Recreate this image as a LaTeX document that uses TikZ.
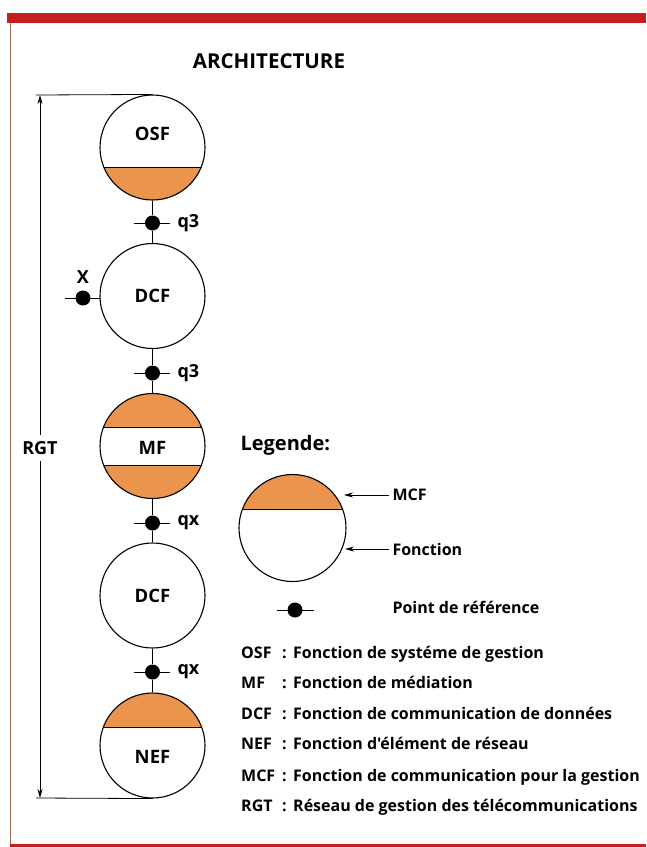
\documentclass[tikz,border=0pt]{standalone}
\usepackage{fontspec}
\setmainfont{Open Sans}[Ligatures=TeXOff]
\usetikzlibrary{arrows.meta,calc}
\definecolor{mcforange}{RGB}{234,148,78}
\definecolor{barred}{RGB}{196,30,32}
\definecolor{framerule}{RGB}{150,110,80}

\begin{document}
\begin{tikzpicture}[x=1pt,y=-1pt,
  font=\bfseries\fontsize{16}{18}\selectfont,
  func/.style={circle,draw,line width=1.1pt,minimum size=105pt,inner sep=0pt},
  flabel/.style={font=\bfseries\fontsize{18.5}{20}\selectfont},
  lowcap/.style={path picture={\fill[mcforange,draw=black,line width=0.9pt]
    ([shift={(-70pt,-#1)}]path picture bounding box.center) rectangle
    ([shift={(70pt,-80pt)}]path picture bounding box.center);}},
  upcap/.style={path picture={\fill[mcforange,draw=black,line width=0.9pt]
    ([shift={(-70pt,#1)}]path picture bounding box.center) rectangle
    ([shift={(70pt,80pt)}]path picture bounding box.center);}},
  bothcaps/.style={path picture={
    \fill[mcforange,draw=black,line width=0.9pt]
      ([shift={(-70pt,#1)}]path picture bounding box.center) rectangle
      ([shift={(70pt,80pt)}]path picture bounding box.center);
    \fill[mcforange,draw=black,line width=0.9pt]
      ([shift={(-70pt,-#1)}]path picture bounding box.center) rectangle
      ([shift={(70pt,-80pt)}]path picture bounding box.center);}},
  refdot/.style={circle,fill=black,minimum size=15pt,inner sep=0pt},
  wire/.style={line width=0.8pt},
  arr/.style={line width=0.8pt,-{Stealth[length=9pt,width=5pt]}},
  qlabel/.style={anchor=west,font=\bfseries\fontsize{18}{20}\selectfont},
]
\useasboundingbox (0,0) rectangle (646,847);

% frame
\fill[barred] (7,13) rectangle (646,22.5);
\fill[barred] (10,843.5) rectangle (646,847);
\draw[framerule,line width=0.9pt] (10,22.5) -- (10,843.5);

% title
\node[font=\bfseries\fontsize{20.5}{24}\selectfont] (title) at (269,61) {ARCHITECTURE};

% function blocks
\node[func,lowcap=19.5pt] (osf)  at (152.5,147.5) {};
\node[func]               (dcf1) at (152.5,296)   {};
\node[func,bothcaps=19pt] (mf)   at (152.5,446)   {};
\node[func]               (dcf2) at (152.5,595.5) {};
\node[func,upcap=18.5pt]  (nef)  at (152.5,745.5) {};
\node[flabel] (osft)  at (152.5,134)   {OSF};
\node[flabel] (dcf1t) at (152.5,296)   {DCF};
\node[flabel] (mft)   at (152.5,448)   {MF};
\node[flabel] (dcf2t) at (152.5,595.5) {DCF};
\node[flabel] (neft)  at (152.5,757)   {NEF};

% reference points
\node[refdot] (p1) at (152.5,223) {};
\node[refdot] (p2) at (152.5,373) {};
\node[refdot] (p3) at (152.5,523) {};
\node[refdot] (p4) at (152.5,672) {};
\node[refdot] (px) at (83,298) {};

\draw[wire] (osf) -- (p1) -- (dcf1);
\draw[wire] (dcf1) -- (p2) -- (mf);
\draw[wire] (mf) -- (p3) -- (dcf2);
\draw[wire] (dcf2) -- (p4) -- (nef);
\foreach \p in {p1,p2,p3,p4,px}
  \draw[wire] ([xshift=-18.5pt]\p.center) -- ([xshift=17pt]\p.center);

\node[qlabel] (l1) at (174,223) {q3};
\node[qlabel] (l2) at (174,373) {q3};
\node[qlabel] (l3) at (174,523) {qx};
\node[qlabel] (l4) at (174,672) {qx};
\node[font=\bfseries\fontsize{18}{20}\selectfont] (lx) at (83,277) {X};

% RGT extent
\coordinate (rtop) at (36,95);
\coordinate (rbot) at (36,798);
\coordinate (atop) at (40,95);
\coordinate (abot) at (40,798);
\draw[wire] (rtop) -- (osf.north);
\draw[wire] (rbot) -- (nef.south);
\node[font=\bfseries\fontsize{18}{20}\selectfont,inner sep=6pt] (rgt) at (40,448) {RGT};
\draw[arr] (rgt.north) -- (atop);
\draw[arr] (rgt.south) -- (abot);

% legend
\node[anchor=west,font=\bfseries\fontsize{20}{22}\selectfont] (leg) at (237,445) {Legende:};
\node[func,minimum size=107pt,upcap=19pt] (lgc) at (292.5,528) {};
\node[anchor=west] (mcfl) at (389,495) {MCF};
\node[anchor=west] (fctl) at (389,549) {Fonction};
\coordinate (mcft) at (344,495);
\coordinate (fctt) at (345,549);
\draw[arr] (mcfl.west) -- (mcft);
\draw[arr] (fctl.west) -- (fctt);
\node[refdot] (lgp) at (295,610) {};
\draw[wire] ([xshift=-18.5pt]lgp.center) -- ([xshift=18.5pt]lgp.center);
\node[anchor=west] (refl) at (389,607) {Point de référence};

% abbreviations
\foreach \ab/\tx/\yy [count=\i] in {
  OSF/Fonction de systéme de gestion/658,
  MF/Fonction de médiation/688,
  DCF/Fonction de communication de données/719,
  NEF/Fonction d'élément de réseau/749,
  MCF/Fonction de communication pour la gestion/781,
  RGT/Réseau de gestion des télécommunications/811}{
  \node[anchor=base west,inner sep=0pt] (ab\i) at (241,\yy) {\ab};
  \node[anchor=base,inner sep=0pt] (co\i) at (284.5,\yy) {:};
  \node[anchor=base west,inner sep=0pt] (tx\i) at (293,\yy) {\tx};
}
\end{tikzpicture}
\end{document}
